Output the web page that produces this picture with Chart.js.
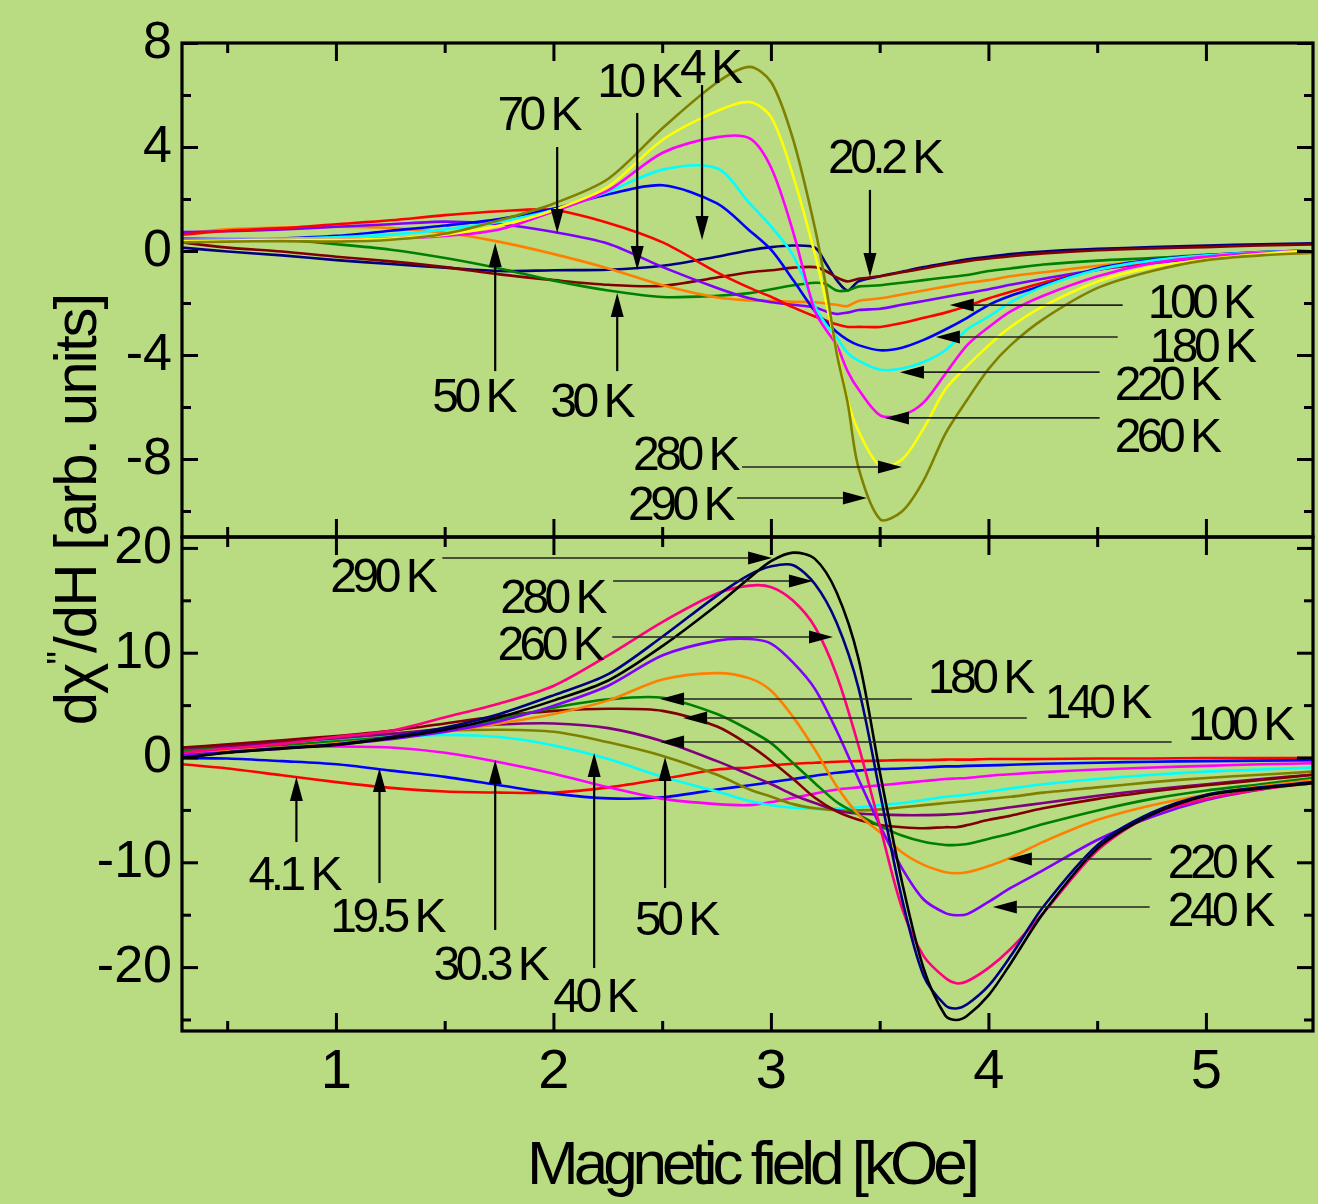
<!DOCTYPE html>
<html>
<head>
<meta charset="utf-8">
<script src="https://cdn.jsdelivr.net/npm/chart.js@4.4.1/dist/chart.umd.min.js"></script>
<style>
html,body{margin:0;padding:0;background:#b9db81;}
canvas{display:block;}
</style>
</head>
<body>
<canvas id="chart" width="1318" height="1204"></canvas>
<script>
// ================= DATA =================
// Upper panel: magnetic field grid (kOe)
const fieldTop = [0.29,0.5,0.75,1.0,1.25,1.5,1.75,2.0,2.25,2.5,2.75,2.9,3.0,3.1,3.2,3.25,3.3,3.35,3.4,3.5,3.6,3.7,3.8,3.9,4.0,4.1,4.25,4.5,4.75,5.0,5.25,5.49];
const top290K = [0.35,0.38,0.4,0.38,0.45,0.68,1.2,1.85,2.8,4.75,6.5,7.1,6.5,4.3,0.9,-1.3,-3.9,-5.8,-8.3,-10.3,-10.0,-8.8,-7.0,-5.7,-4.5,-3.6,-2.6,-1.4,-0.75,-0.33,-0.15,-0.05];
const top280K = [0.4,0.42,0.45,0.45,0.5,0.65,1.0,1.6,2.5,4.3,5.4,5.75,5.15,2.9,-0.1,-1.9,-3.8,-5.7,-6.9,-8.25,-8.0,-6.8,-5.3,-4.4,-3.6,-2.9,-2.1,-1.15,-0.6,-0.3,-0.1,0.05];
const top260K = [0.45,0.45,0.45,0.45,0.5,0.6,0.85,1.55,2.35,3.8,4.4,4.35,3.2,0.75,-2.3,-3.0,-3.6,-4.6,-5.3,-6.3,-6.3,-5.8,-4.7,-3.6,-2.9,-2.3,-1.7,-0.95,-0.45,-0.2,-0.05,0.05];
const top220K = [0.45,0.48,0.5,0.55,0.65,0.85,1.15,1.6,2.3,3.15,3.2,1.85,0.95,-0.15,-2.1,-2.8,-3.3,-3.9,-4.2,-4.55,-4.5,-4.25,-3.8,-3.0,-2.5,-1.95,-1.35,-0.7,-0.35,-0.15,-0.03,0.05];
const top180K = [0.4,0.45,0.5,0.6,0.8,1.0,1.25,1.65,2.2,2.55,1.85,0.8,0.05,-1.1,-2.3,-2.7,-3.1,-3.4,-3.6,-3.8,-3.7,-3.4,-3.0,-2.55,-2.05,-1.7,-1.3,-0.65,-0.32,-0.14,-0.02,0.05];
const top100K = [0.65,0.8,0.9,1.05,1.2,1.4,1.55,1.6,1.1,0.35,-0.8,-1.4,-1.75,-2.15,-2.5,-2.65,-2.8,-2.9,-2.9,-2.9,-2.75,-2.55,-2.35,-2.1,-1.8,-1.55,-1.2,-0.7,-0.4,-0.2,-0.05,0.05];
const top70K  = [0.75,0.78,0.85,0.95,1.05,1.15,1.05,0.75,0.3,-0.6,-1.4,-1.8,-1.95,-2.05,-2.15,-2.3,-2.4,-2.35,-2.25,-2.2,-2.05,-1.9,-1.75,-1.6,-1.45,-1.28,-1.05,-0.7,-0.45,-0.25,-0.1,0.0];
const top50K  = [0.7,0.85,0.92,0.95,0.9,0.72,0.37,-0.1,-0.65,-1.3,-1.77,-1.88,-1.9,-1.93,-1.95,-2.0,-2.05,-2.1,-1.9,-1.8,-1.65,-1.5,-1.35,-1.2,-1.1,-0.95,-0.8,-0.55,-0.35,-0.2,-0.1,-0.05];
const top30K  = [0.5,0.48,0.45,0.28,0.07,-0.25,-0.65,-1.12,-1.5,-1.75,-1.7,-1.6,-1.45,-1.3,-1.2,-1.25,-1.5,-1.5,-1.35,-1.3,-1.2,-1.1,-1.0,-0.9,-0.75,-0.65,-0.5,-0.35,-0.25,-0.13,-0.07,0.0];
const top20K  = [0.35,0.15,0.0,-0.2,-0.38,-0.6,-0.88,-1.1,-1.28,-1.32,-1.0,-0.8,-0.72,-0.62,-0.6,-0.75,-1.0,-1.15,-1.05,-0.95,-0.8,-0.65,-0.5,-0.37,-0.27,-0.18,-0.07,0.05,0.12,0.17,0.23,0.27];
const top10K  = [0.15,0.0,-0.15,-0.33,-0.48,-0.62,-0.75,-0.72,-0.7,-0.55,-0.2,0.05,0.17,0.23,0.15,-0.45,-1.1,-1.5,-1.15,-0.95,-0.78,-0.6,-0.45,-0.3,-0.2,-0.1,0.0,0.1,0.17,0.23,0.28,0.32];

// Lower panel: magnetic field grid (kOe)
const fieldBottom = [0.29,0.5,0.75,1.0,1.25,1.5,1.75,2.0,2.25,2.5,2.75,2.9,3.0,3.1,3.2,3.3,3.4,3.5,3.6,3.7,3.8,3.85,3.9,4.0,4.1,4.25,4.5,4.75,5.0,5.25,5.49];
const bot290K = [0.0,0.5,0.9,1.25,1.9,2.7,3.9,5.5,7.4,10.7,14.6,17.2,18.8,19.6,19.0,15.8,9.5,-1.5,-11.8,-20.1,-24.6,-25.0,-24.6,-22.6,-19.6,-14.8,-8.6,-5.4,-3.6,-2.9,-2.4];
const bot280K = [0.0,0.55,0.95,1.3,2.0,2.9,4.2,6.0,8.0,11.6,15.5,17.5,18.3,18.4,16.6,12.9,6.7,-3.4,-13.4,-20.8,-23.6,-23.9,-23.5,-21.7,-18.9,-14.2,-8.3,-5.2,-3.5,-2.8,-2.3];
const bot260K = [0.5,0.9,1.35,2.0,2.6,3.9,5.2,6.9,9.8,13.0,15.7,16.45,16.3,15.0,12.5,7.9,1.2,-6.6,-14.3,-18.9,-21.0,-21.5,-21.3,-20.0,-18.2,-14.8,-8.8,-5.4,-3.9,-3.0,-2.4];
const bot240K = [0.3,0.55,0.9,1.3,1.8,2.5,3.5,5.0,6.9,9.8,11.2,11.35,10.9,9.1,6.6,2.6,-2.0,-6.5,-10.5,-13.5,-14.8,-15.0,-14.9,-13.7,-12.4,-10.7,-7.8,-5.6,-4.0,-3.0,-2.3];
const bot220K = [0.4,0.7,1.0,1.4,1.9,2.5,3.3,4.2,5.5,7.5,8.1,7.6,6.4,3.9,0.8,-2.7,-5.4,-7.1,-9.0,-10.2,-10.9,-11.0,-10.9,-10.3,-9.5,-8.0,-5.9,-4.5,-3.5,-2.7,-2.1];
const bot180K = [0.7,0.9,1.2,1.6,2.0,2.7,3.7,4.8,5.6,5.75,4.2,2.65,1.4,-0.5,-2.4,-4.2,-5.4,-6.5,-7.4,-8.0,-8.3,-8.3,-8.2,-7.7,-7.2,-6.3,-5.0,-3.9,-3.1,-2.5,-1.9];
const bot140K = [1.0,1.3,1.7,2.1,2.6,3.3,4.0,4.5,4.7,4.5,3.0,1.2,-0.3,-2.0,-3.8,-5.1,-5.9,-6.4,-6.6,-6.7,-6.6,-6.6,-6.4,-5.9,-5.5,-4.8,-3.9,-3.2,-2.6,-2.1,-1.6];
const bot100K = [0.8,1.1,1.5,1.9,2.3,2.8,3.2,3.3,2.85,1.6,-0.3,-1.6,-2.5,-3.5,-4.3,-5.0,-5.3,-5.4,-5.45,-5.45,-5.4,-5.35,-5.25,-5.0,-4.7,-4.3,-3.6,-3.0,-2.5,-2.0,-1.6];
const bot50K  = [0.8,1.1,1.5,1.9,2.3,2.6,2.7,2.5,1.5,0.2,-1.6,-3.0,-3.7,-4.4,-4.8,-5.0,-5.0,-4.9,-4.7,-4.5,-4.3,-4.2,-4.1,-3.9,-3.7,-3.3,-2.8,-2.3,-1.9,-1.6,-1.3];
const bot40K  = [0.7,1.0,1.3,1.7,2.0,2.2,2.0,1.2,-0.1,-1.8,-3.2,-4.1,-4.5,-4.75,-4.85,-4.8,-4.7,-4.5,-4.3,-4.0,-3.7,-3.6,-3.5,-3.2,-2.9,-2.5,-2.0,-1.6,-1.3,-1.1,-0.9];
const bot30K  = [0.3,0.7,1.0,1.1,1.0,0.5,-0.4,-1.5,-2.8,-3.9,-4.4,-4.5,-4.2,-3.8,-3.4,-3.0,-2.8,-2.6,-2.4,-2.2,-2.0,-1.95,-1.9,-1.7,-1.55,-1.35,-1.1,-0.9,-0.75,-0.6,-0.5];
const bot19K  = [0.0,-0.05,-0.3,-0.6,-1.2,-1.8,-2.6,-3.4,-3.85,-3.75,-3.0,-2.6,-2.3,-2.0,-1.7,-1.4,-1.2,-1.05,-1.0,-0.9,-0.8,-0.8,-0.75,-0.7,-0.65,-0.55,-0.45,-0.35,-0.3,-0.25,-0.2];
const bot4K   = [-0.6,-1.0,-1.65,-2.3,-2.85,-3.2,-3.3,-3.3,-2.8,-2.0,-1.1,-0.9,-0.7,-0.55,-0.45,-0.35,-0.3,-0.25,-0.2,-0.2,-0.15,-0.15,-0.15,-0.1,-0.1,-0.1,-0.05,-0.05,0.0,0.0,0.0];

// Tick values
const xTicks = [1,2,3,4,5];
const xMinorTicks = [0.5,1.5,2.5,3.5,4.5];
const topTicks = [8,4,0,-4,-8];
const topMinorTicks = [6,2,-2,-6,-10];
const bottomTicks = [20,10,0,-10,-20];
const bottomMinorTicks = [15,5,-5,-15,-25];

// Series tables (values + colours)
const topValues = [top290K,top280K,top260K,top220K,top180K,top100K,top70K,top50K,top30K,top20K,top10K];
const topNames  = ['290 K','280 K','260 K','220 K','180 K','100 K','70 K','50 K','30 K','20.2 K','10 K'];
const topColors = ['#808000','#ffff00','#ff00ff','#00ffff','#0000ff','#ff0000','#8000ff','#ff8000','#008000','#800000','#000080'];
const botValues = [bot290K,bot280K,bot260K,bot240K,bot220K,bot180K,bot140K,bot100K,bot50K,bot40K,bot30K,bot19K,bot4K];
const botNames  = ['290 K','280 K','260 K','240 K','220 K','180 K','140 K','100 K','50 K','40 K','30.3 K','19.5 K','4.1 K'];
const botColors = ['#000000','#000080','#ff0080','#8000ff','#ff8000','#008000','#800000','#800080','#808000','#00ffff','#ff00ff','#0000ff','#ff0000'];

// Annotations (data coordinates): text pos, arrow from (x1,y1) to tip (x2,y2)
const topNotes = [
  {t:'70 K',  x:1.740, y:4.67,  a:[2.015,4.02,2.015,0.71]},
  {t:'10 K',  x:2.199, y:5.94,  a:[2.383,5.33,2.383,-0.71]},
  {t:'4 K',   x:2.580, y:6.48,  a:[2.681,6.40,2.681,0.44]},
  {t:'20.2 K',x:3.260, y:3.02,  a:[3.453,2.37,3.453,-0.98]},
  {t:'50 K',  x:1.441, y:-6.17, a:[1.730,-4.60,1.730,0.33]},
  {t:'30 K',  x:1.983, y:-6.37, a:[2.291,-4.60,2.291,-1.60]},
  {t:'100 K', x:4.730, y:-2.56, a:[4.615,-2.06,3.820,-2.06]},
  {t:'180 K', x:4.739, y:-4.25, a:[4.592,-3.29,3.756,-3.29]},
  {t:'220 K', x:4.578, y:-5.71, a:[4.509,-4.64,3.591,-4.64]},
  {t:'260 K', x:4.578, y:-7.71, a:[4.509,-6.40,3.522,-6.40]},
  {t:'280 K', x:2.364, y:-8.40, a:[2.865,-8.29,3.600,-8.29]},
  {t:'290 K', x:2.341, y:-10.33,a:[2.842,-9.48,3.439,-9.48]}
];
const bottomNotes = [
  {t:'290 K', x:0.972, y:15.84, a:[1.487,19.08,3.003,19.08]},
  {t:'280 K', x:1.753, y:13.84, a:[2.272,16.89,3.191,16.89]},
  {t:'260 K', x:1.740, y:9.35,  a:[2.268,11.55,3.283,11.55]},
  {t:'180 K', x:3.719, y:6.20,  a:[3.646,5.63,2.488,5.63]},
  {t:'140 K', x:4.257, y:3.82,  a:[4.174,3.82,2.594,3.82]},
  {t:'100 K', x:4.914, y:1.72,  a:[4.840,1.53,2.488,1.53]},
  {t:'220 K', x:4.822, y:-11.45,a:[4.748,-9.64,4.087,-9.64]},
  {t:'240 K', x:4.822, y:-16.03,a:[4.739,-14.22,4.018,-14.22]},
  {t:'4.1 K', x:0.596, y:-12.60,a:[0.816,-8.02,0.816,-1.81]},
  {t:'19.5 K',x:0.972, y:-16.60,a:[1.198,-11.93,1.198,-0.95]},
  {t:'30.3 K',x:1.446, y:-21.18,a:[1.730,-16.41,1.730,-0.19]},
  {t:'40 K',  x:1.997, y:-24.24,a:[2.185,-20.04,2.185,0.48]},
  {t:'50 K',  x:2.373, y:-16.89,a:[2.511,-12.40,2.511,0.10]}
];

// ================= CHART =================
const BG = '#b9db81';
const FONT = '"Liberation Sans", Arial, sans-serif';

const datasets = [];
topValues.forEach((vals, i) => datasets.push({
  label: 'top ' + topNames[i],
  data: fieldTop.map((x, j) => ({x, y: vals[j]})),
  yAxisID: 'yT', borderColor: topColors[i], borderWidth: 2.6,
  pointRadius: 0, tension: 0.3, fill: false
}));
botValues.forEach((vals, i) => datasets.push({
  label: 'bottom ' + botNames[i],
  data: fieldBottom.map((x, j) => ({x, y: vals[j]})),
  yAxisID: 'yB', borderColor: botColors[i], borderWidth: 2.6,
  pointRadius: 0, tension: 0.3, fill: false
}));

function arrow(c, x1, y1, x2, y2, lw, col) {
  const dx = x2 - x1, dy = y2 - y1, L = Math.hypot(dx, dy);
  const ux = dx / L, uy = dy / L, hl = 24, hw = 6.5;
  const bx = x2 - ux * hl, by = y2 - uy * hl;
  c.strokeStyle = col; c.fillStyle = '#000'; c.lineWidth = lw;
  c.beginPath(); c.moveTo(x1, y1); c.lineTo(bx, by); c.stroke();
  c.beginPath(); c.moveTo(x2, y2);
  c.lineTo(bx - uy * hw, by + ux * hw); c.lineTo(bx + uy * hw, by - ux * hw);
  c.closePath(); c.fill();
}

const decor = {
  id: 'decor',
  beforeDraw(chart) {
    const c = chart.ctx;
    c.save(); c.fillStyle = BG; c.fillRect(0, 0, chart.width, chart.height); c.restore();
  },
  afterDraw(chart) {
    const c = chart.ctx, xs = chart.scales.x, yT = chart.scales.yT, yB = chart.scales.yB;
    c.save();
    c.strokeStyle = '#000'; c.lineCap = 'butt';
    c.lineWidth = 3;
    const tick = (x1, y1, x2, y2) => { c.beginPath(); c.moveTo(x1, y1); c.lineTo(x2, y2); c.stroke(); };
    [yT, yB].forEach(s => {
      xTicks.forEach(v => { const p = xs.getPixelForValue(v); tick(p, s.top, p, s.top + 18); tick(p, s.bottom, p, s.bottom - 18); });
      xMinorTicks.forEach(v => { const p = xs.getPixelForValue(v); tick(p, s.top, p, s.top + 10); tick(p, s.bottom, p, s.bottom - 10); });
      const maj = s === yT ? topTicks : bottomTicks, mi = s === yT ? topMinorTicks : bottomMinorTicks;
      maj.forEach(v => { const p = s.getPixelForValue(v); tick(xs.left, p, xs.left + 16, p); tick(xs.right, p, xs.right - 16, p); });
      mi.forEach(v => { const p = s.getPixelForValue(v); tick(xs.left, p, xs.left + 9, p); tick(xs.right, p, xs.right - 9, p); });
    });
    c.lineWidth = 3.2;
    [yT, yB].forEach(s => c.strokeRect(xs.left, s.top, xs.right - xs.left, s.bottom - s.top));
    c.font = '48px ' + FONT; c.letterSpacing = '-4.5px'; c.textBaseline = 'alphabetic'; c.textAlign = 'left';
    const drawNotes = (notes, s) => notes.forEach(n => {
      c.fillStyle = '#000';
      c.fillText(n.t, xs.getPixelForValue(n.x), s.getPixelForValue(n.y));
      const [a1, b1, a2, b2] = n.a;
      const horiz = b1 === b2;
      arrow(c, xs.getPixelForValue(a1), s.getPixelForValue(b1), xs.getPixelForValue(a2), s.getPixelForValue(b2), horiz ? 1.6 : 2.2, horiz ? '#222' : '#000');
    });
    drawNotes(topNotes, yT);
    drawNotes(bottomNotes, yB);
    c.fillStyle = '#000';
    c.font = '62px ' + FONT; c.letterSpacing = '-5px'; c.textAlign = 'left';
    c.fillText('Magnetic field [kOe]', 527, 1184);
    c.translate(96, 510); c.rotate(-Math.PI / 2);
    c.letterSpacing = '-2px';
    const p1 = 'd\u03C7', p3 = '/dH [arb. units]';
    c.font = '60px ' + FONT; const w1 = c.measureText(p1).width;
    c.font = '38px ' + FONT; const w2 = c.measureText('"').width;
    c.font = '60px ' + FONT; const w3 = c.measureText(p3).width;
    let x0 = -(w1 + w2 + w3) / 2;
    c.fillText(p1, x0, 0); x0 += w1;
    c.font = '38px ' + FONT; c.fillText('"', x0, -22); x0 += w2;
    c.font = '60px ' + FONT; c.fillText(p3, x0, 0);
    c.restore();
  }
};

new Chart(document.getElementById('chart'), {
  type: 'line',
  data: { datasets },
  plugins: [decor],
  options: {
    responsive: false, animation: false, devicePixelRatio: 1,
    layout: { padding: { top: 43, right: 5, left: 0, bottom: 0 } },
    plugins: { legend: { display: false }, tooltip: { enabled: false } },
    elements: { line: { borderCapStyle: 'round', borderJoinStyle: 'round' } },
    scales: {
      x: {
        type: 'linear', position: 'bottom', min: 0.29, max: 5.49,
        grid: { display: false, drawTicks: false }, border: { display: false },
        afterBuildTicks: s => { s.ticks = xTicks.map(v => ({value: v})); },
        afterFit: s => { s.height = 173; },
        ticks: { font: { family: FONT, size: 56 }, color: '#000', padding: 8, maxRotation: 0, autoSkip: false }
      },
      yB: {
        type: 'linear', position: 'left', stack: 'panels', stackWeight: 1, min: -26.05, max: 21.09,
        grid: { display: false, drawTicks: false }, border: { display: false },
        afterBuildTicks: s => { s.ticks = bottomTicks.map(v => ({value: v})); },
        afterFit: s => { s.width = 182; },
        ticks: { font: { family: FONT, size: 52 }, color: '#000', padding: 10 }
      },
      yT: {
        type: 'linear', position: 'left', stack: 'panels', stackWeight: 1, min: -10.98, max: 8.02,
        grid: { display: false, drawTicks: false }, border: { display: false },
        afterBuildTicks: s => { s.ticks = topTicks.map(v => ({value: v})); },
        afterFit: s => { s.width = 182; },
        ticks: { font: { family: FONT, size: 52 }, color: '#000', padding: 10 }
      }
    }
  }
});
</script>
</body>
</html>
